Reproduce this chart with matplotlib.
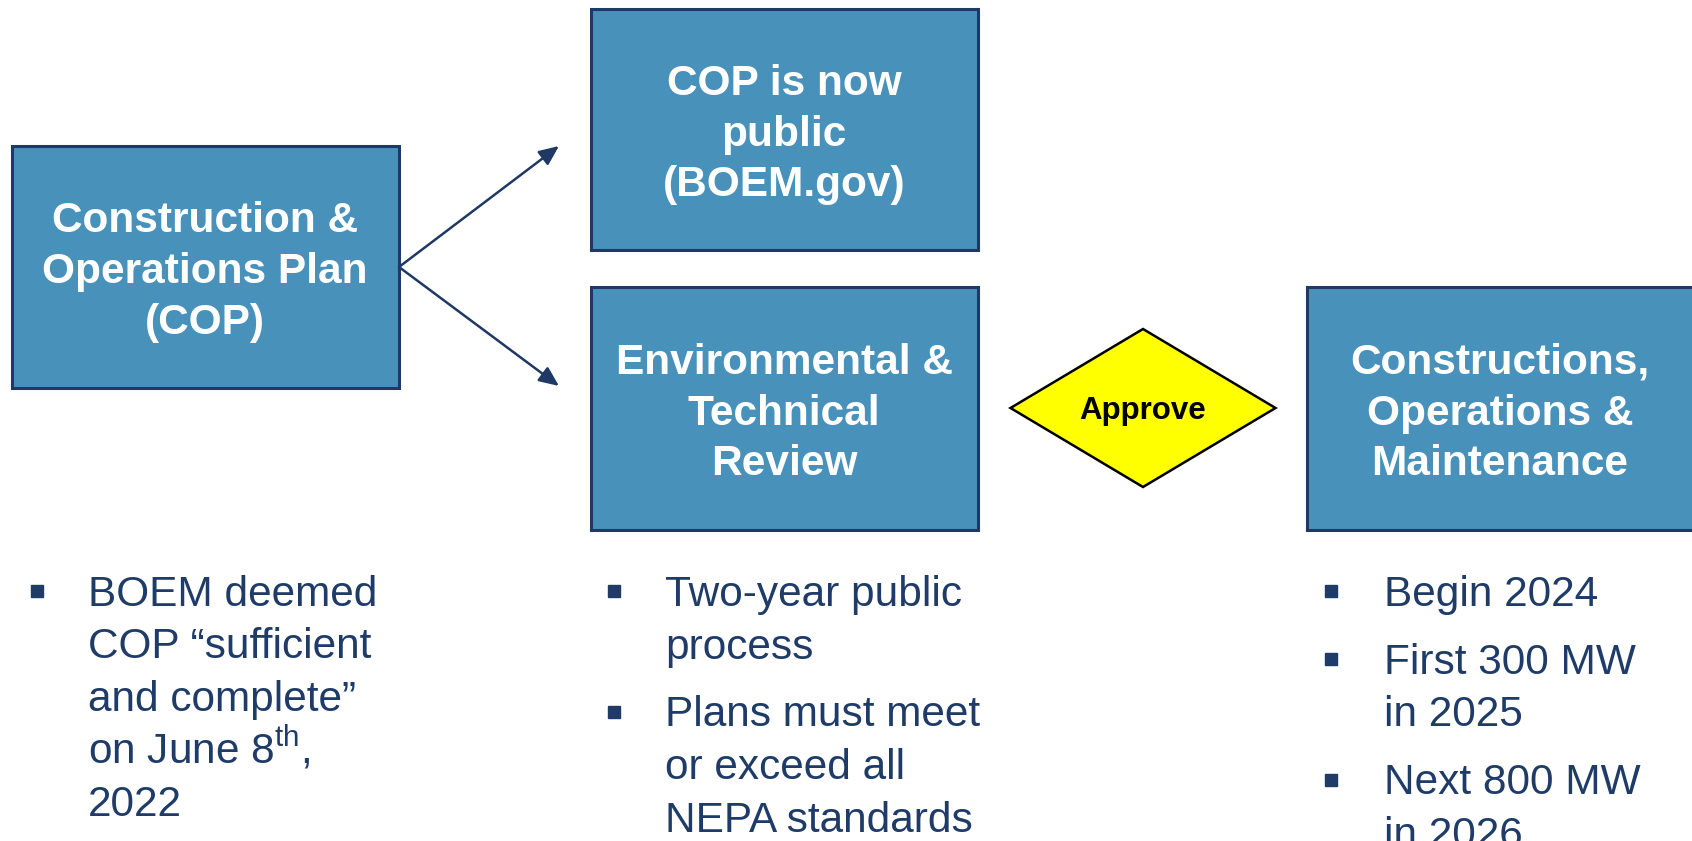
import matplotlib
matplotlib.use("Agg")
import matplotlib.pyplot as plt
from matplotlib.patches import Rectangle, Polygon, FancyArrowPatch

plt.rcParams['font.family'] = ['Liberation Sans', 'DejaVu Sans']
plt.rcParams['mathtext.fontset'] = 'custom'
plt.rcParams['mathtext.rm'] = 'Liberation Sans'

# ---- content ----
box_labels = ["Construction &\nOperations Plan\n(COP)",
              "COP is now\npublic\n(BOEM.gov)",
              "Environmental &\nTechnical\nReview",
              "Constructions,\nOperations &\nMaintenance"]
decision_label = "Approve"
bullets_cop = [["BOEM deemed", "COP \u201csufficient", "and complete\u201d",
                "on June 8$^{\\mathrm{th}}$,", "2022"]]
bullets_review = [["Two-year public", "process"],
                  ["Plans must meet", "or exceed all", "NEPA standards"]]
bullets_build = [["Begin 2024"],
                 ["First 300 MW", "in 2025"],
                 ["Next 800 MW", "in 2026"]]

# ---- layout (pixels) ----
W, H = 1692, 841
box_fill = "#4891BA"
box_edge = "#1F3864"
text_dark = "#1F3B68"
boxes = [(12, 146, 387, 242), (591, 9, 387, 241), (591, 287, 387, 243), (1307, 287, 400, 243)]
text_cx = [205, 784, 784, 1500]

fig = plt.figure(figsize=(W / 100, H / 100), dpi=100)
ax = fig.add_axes([0, 0, 1, 1])
ax.set_xlim(0, W)
ax.set_ylim(H, 0)
ax.axis('off')

for (x, y, w, h), lab, tcx in zip(boxes, box_labels, text_cx):
    ax.add_patch(Rectangle((x, y), w, h, facecolor=box_fill, edgecolor=box_edge, lw=2.2))
    ax.text(tcx, y + h / 2 + 5, lab, ha='center', va='center',
            color='white', fontsize=30.5, fontweight='bold', linespacing=1.34)

# arrows from box 1
start = (399, 267)
for end in [(559, 146), (559, 386)]:
    ax.add_patch(FancyArrowPatch(start, end, arrowstyle='-|>,head_length=8,head_width=3.5',
                                 color=box_edge, lw=1.8, mutation_scale=1.5, shrinkA=0, shrinkB=0))

# decision diamond
cx, cy, dw, dh = 1143, 408, 265, 158
ax.add_patch(Polygon([(cx - dw / 2, cy), (cx, cy - dh / 2), (cx + dw / 2, cy), (cx, cy + dh / 2)],
                     closed=True, facecolor='#FFFF00', edgecolor='black', lw=1.8))
ax.text(cx, cy + 3, decision_label, ha='center', va='center', fontsize=22.5,
        fontweight='bold', color='black')

# bullets
line_step = 52.5
para_step = 68


def draw_bullets(groups, bx, tx, y0):
    y = y0
    for gi, group in enumerate(groups):
        if gi > 0:
            y += para_step - line_step
        ax.plot([bx], [y - 15], marker='s', ms=8, color=text_dark, mec=text_dark)
        for line in group:
            ax.text(tx, y, line, ha='left', va='baseline', fontsize=30.5, color=text_dark)
            y += line_step
    return y


draw_bullets(bullets_cop, 37, 88, 606)
draw_bullets(bullets_review, 614, 665, 606)
draw_bullets(bullets_build, 1331, 1384, 606)

fig.savefig("out.png", dpi=100, facecolor='white')
